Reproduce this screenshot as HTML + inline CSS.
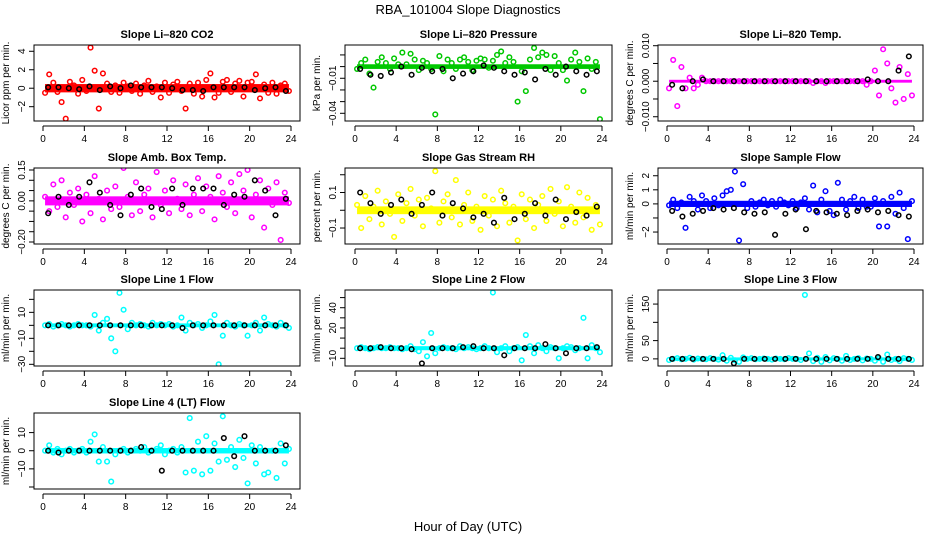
<!DOCTYPE html>
<html><head><meta charset="utf-8"><style>
html,body{margin:0;padding:0;background:#fff;}
svg{display:block;font-family:"Liberation Sans",sans-serif;}
</style></head><body>
<svg id="chart" width="936" height="540" viewBox="0 0 936 540" xmlns="http://www.w3.org/2000/svg">
<text x="468" y="14" font-size="13" text-anchor="middle">RBA_101004  Slope Diagnostics</text>
<text x="468" y="531" font-size="13" text-anchor="middle">Hour of Day (UTC)</text>
</svg>
<script>
const hoursC=[0.2,0.6,1.0,1.4,1.8,2.2,2.6,3.0,3.4,3.8,4.2,4.6,5.0,5.4,5.8,6.2,6.6,7.0,7.4,7.8,8.2,8.6,9.0,9.4,9.8,10.2,10.6,11.0,11.4,11.8,12.2,12.6,13.0,13.4,13.8,14.2,14.6,15.0,15.4,15.8,16.2,16.6,17.0,17.4,17.8,18.2,18.6,19.0,19.4,19.8,20.2,20.6,21.0,21.4,21.8,22.2,22.6,23.0,23.4,23.8];
const hoursK=[0.5,1.5,2.5,3.5,4.5,5.5,6.5,7.5,8.5,9.5,10.5,11.5,12.5,13.5,14.5,15.5,16.5,17.5,18.5,19.5,20.5,21.5,22.5,23.5];
const xTicks=[0,4,8,12,16,20,24];

const co2Vals=[-0.5,1.5,0.6,-0.4,-1.5,-3.3,0.7,0.3,-0.6,0.9,-0.3,4.4,1.9,-2.2,1.6,0.5,-0.4,0.3,-0.5,0.6,0.2,-0.3,0.5,-0.6,0.3,0.8,-0.4,0.2,-1.0,0.6,-0.5,0.4,0.7,-0.3,-2.2,0.5,-0.6,0.6,-0.9,0.9,1.6,-1.0,-0.5,0.7,0.9,-0.4,0.5,0.8,-0.9,0.6,0.7,1.5,-1.1,0.4,-0.5,0.6,-0.6,0.3,0.5,-0.3];
const co2Black=[0.1,0.1,0.0,-0.1,0.2,-0.2,0.2,0.0,0.3,0.1,0.1,0.1,0.0,-0.2,-0.2,-0.3,0.1,0.1,0.1,0.1,-0.2,0.0,0.1,-0.3];
const presVals=[-0.002,0.003,0.006,-0.006,-0.018,0.004,0.008,0.003,-0.002,0.007,0.002,0.012,0.002,0.011,0.006,-0.003,0.005,0.003,-0.002,-0.041,0.009,-0.004,0.006,0.003,-0.002,0.006,0.008,0.004,-0.003,0.005,0.007,0.006,-0.001,0.005,0.010,0.013,0.003,0.008,0.004,-0.030,-0.004,-0.021,0.006,0.016,0.008,0.012,0.010,-0.003,0.009,0.003,-0.003,-0.012,0.006,0.012,0.004,-0.021,0.007,-0.002,0.004,-0.045];
const presBlack=[-0.002,-0.007,-0.008,-0.005,0.000,-0.007,-0.001,-0.004,-0.002,-0.010,-0.006,-0.004,0.001,-0.001,-0.004,-0.007,-0.005,-0.011,-0.002,-0.007,0.000,-0.004,-0.007,-0.004];
const tempVals=[-0.002,0.006,-0.007,0.004,-0.002,0.001,-0.002,-0.001,0.001,0.000,0,0,0,0,0,0,0,0,0,0,0,0,0,0,0,0,0,0,0,0,0,0,0,0,0,-0.0005,0,0,-0.0005,0,0,0,0,0,0,0,0,0,-0.001,0,0.003,-0.004,0.009,0.005,-0.002,-0.006,0.004,-0.005,0.002,-0.004];
const tempBlack=[-0.001,-0.002,0.000,0.0005,0,0,0,0,0,0,0,0,0,0,0,0,0,0,0,0.0005,0,0,0.003,0.007];
const ambVals=[0.02,-0.05,0.08,-0.03,0.10,-0.08,0.04,-0.02,0.06,-0.10,0.03,-0.06,0.12,0.01,-0.09,0.05,-0.04,0.07,-0.03,0.16,0.02,-0.07,0.09,-0.05,0.03,0.06,-0.08,0.14,-0.02,0.05,-0.06,0.10,0.01,-0.04,0.08,-0.07,0.03,0.11,-0.05,0.07,0.02,-0.09,0.12,0.04,-0.03,0.09,-0.06,0.13,0.05,0.15,-0.08,0.03,0.10,-0.13,0.06,-0.02,0.09,-0.19,0.04,-0.01];
const ambBlack=[-0.06,0.02,-0.02,0.02,0.09,0.04,-0.02,-0.07,0.03,0.06,-0.03,-0.04,0.06,-0.02,0.06,0.06,0.06,-0.02,0.03,0.02,0.10,0.05,-0.07,0.01];
const rhVals=[0.03,-0.10,0.08,-0.05,0.02,0.11,-0.08,0.05,-0.02,-0.15,0.09,-0.06,0.04,0.12,-0.03,0.06,-0.09,0.07,0.01,0.22,-0.07,0.05,0.09,-0.04,0.17,-0.08,0.03,0.10,-0.06,0.02,-0.11,0.08,-0.03,0.06,-0.09,0.11,0.04,-0.07,0.02,-0.17,0.09,-0.05,0.06,-0.10,0.03,0.08,-0.06,0.12,-0.02,0.05,-0.09,0.13,0.02,-0.07,0.10,-0.04,0.07,-0.11,0.03,-0.08];
const rhBlack=[0.10,0.04,-0.02,0.03,0.06,-0.02,0.03,0.10,-0.03,0.04,0.01,-0.04,-0.02,-0.07,0.07,-0.05,-0.02,0.04,-0.03,0.06,-0.05,-0.01,-0.03,0.02];
const flowVals=[-0.1,0.3,-0.3,0.1,-1.7,0.5,0.2,-0.4,0.6,0.2,-0.3,0.4,-0.1,0.6,0.9,1.0,2.3,-2.6,1.4,-0.3,0.2,-0.2,0.1,0.3,-0.1,0.2,-0.2,0.3,0.1,-0.1,0.2,-0.3,0.1,0.4,-0.4,1.3,-0.6,0.3,0.9,-0.5,-0.8,1.5,0.3,-0.4,0.2,0.5,-0.3,0.3,-0.2,-0.2,0.4,-1.6,0.2,-1.6,0.5,-0.7,0.8,-0.3,-2.5,0.2];
const flowBlack=[-0.5,-0.9,-0.7,-0.5,-0.3,-0.4,-0.3,-0.6,-0.7,-0.6,-2.2,-0.7,-0.4,-1.8,-0.5,-0.6,-0.7,-0.8,-0.5,-0.4,-0.6,-0.5,-0.8,-0.9];
const line1Vals=[0,1,-1,0,1,0,-1,0,1,0,0,-1,8,-4,2,5,-10,-20,25,12,-3,2,0,1,0,-1,2,0,1,0,1,-1,0,6,-4,2,0,1,-2,0,3,8,-30,-8,2,0,-1,1,0,-8,0,2,-4,6,1,0,-1,2,0,-2];
const line1Black=[0,0,0,0,0,0,0,0,0,0,0,0,0,-2,0,0,0,0,0,0,0,0,0,0];
const line2Vals=[0,1,0,-1,0,1,0,0,1,0,0,-1,0,2,-1,-3,6,-8,15,-5,0,1,0,0,-1,2,0,1,0,-1,0,2,0,55,-4,0,2,-3,0,1,-12,13,2,-5,3,0,-3,1,0,-10,0,2,1,-2,0,30,-10,3,0,-4];
const line2Black=[0,0,1,0,0,-1,-15,0,0,0,1,2,0,0,-7,0,0,0,4,0,-5,0,0,1];
const line3Vals=[-3,0,2,-1,0,3,-2,1,0,-1,2,0,-2,10,-5,3,-4,-8,4,0,2,-1,0,1,0,-2,1,0,-1,2,0,0,-3,175,15,-6,3,-8,5,-4,2,0,-5,8,-3,0,2,-4,1,0,-5,2,-8,12,-3,0,-6,2,0,-3];
const line3Black=[0,0,0,0,0,0,-12,0,0,0,0,0,0,0,0,0,0,0,0,0,5,0,0,0];
const line4Vals=[0,3,-1,1,-2,0,1,-1,0,1,-1,5,9,-6,2,-6,-17,-2,0,1,-1,0,1,0,2,-1,0,1,3,-2,0,1,-1,2,-12,18,-11,5,-13,8,-11,4,-6,19,-5,2,-9,6,-4,-18,3,-7,2,-13,-12,0,-15,4,-7,1];
const line4Black=[0,-1,0,0,0,0,0,0,0,2,0,-11,0,0,0,0,0,7,-3,8,0,0,0,3];

const cols=[{l:34,r:300,x0:43,x24:291},{l:345,r:612,x0:355,x24:602},{l:658,r:923,x0:667,x24:914}];
const rows=[{t:45,b:121},{t:168,b:244},{t:290,b:366},{t:413,b:489}];
const panels=[
 {name:'co2',title:'Slope Li\u2013820 CO2',ylab:'Licor ppm per min.',c:0,r:0,lo:-3.55,hi:4.68,col:'#ff0000',band:0.45,vals:co2Vals,blk:co2Black,ticks:[-2,0,2,4],tl:['\u22122','0','2','4']},
 {name:'pressure',title:'Slope Li\u2013820 Pressure',ylab:'kPa per min.',c:1,r:0,lo:-0.0466,hi:0.0185,col:'#00c800',band:0.002,vals:presVals,blk:presBlack,ticks:[0.01,0,-0.01,-0.02,-0.03,-0.04],tl:['','','\u22120.01','','','\u22120.04']},
 {name:'li820-temp',title:'Slope Li\u2013820 Temp.',ylab:'degrees C per min.',c:2,r:0,lo:-0.0112,hi:0.0102,col:'#ff00ff',band:0.0004,vals:tempVals,blk:tempBlack,ticks:[0.01,0.005,0,-0.005,-0.01],tl:['0.010','','0.000','','\u22120.010']},
 {name:'amb-box-temp',title:'Slope Amb. Box Temp.',ylab:'degrees C per min.',c:0,r:1,lo:-0.2097,hi:0.1597,col:'#ff00ff',band:0.022,vals:ambVals,blk:ambBlack,ticks:[0.15,0.1,0.05,0,-0.05,-0.1,-0.15,-0.2],tl:['0.15','','','0.00','','','','\u22120.20']},
 {name:'gas-stream-rh',title:'Slope Gas Stream RH',ylab:'percent per min.',c:1,r:1,lo:-0.19,hi:0.238,col:'#ffff00',band:0.022,vals:rhVals,blk:rhBlack,ticks:[0.2,0.1,0,-0.1],tl:['','0.1','','\u22120.1']},
 {name:'sample-flow',title:'Slope Sample Flow',ylab:'ml/min per min.',c:2,r:1,lo:-2.85,hi:2.55,col:'#0000ff',band:0.22,vals:flowVals,blk:flowBlack,ticks:[2,1,0,-1,-2],tl:['2','1','0','','\u22122']},
 {name:'line1-flow',title:'Slope Line 1 Flow',ylab:'ml/min per min.',c:0,r:2,lo:-31.3,hi:27.2,col:'#00ffff',band:1.5,vals:line1Vals,blk:line1Black,ticks:[20,10,0,-10,-20,-30],tl:['','10','','\u221210','','\u221230']},
 {name:'line2-flow',title:'Slope Line 2 Flow',ylab:'ml/min per min.',c:1,r:2,lo:-17.6,hi:57.5,col:'#00ffff',band:2,vals:line2Vals,blk:line2Black,ticks:[50,40,30,20,10,0,-10],tl:['','40','','20','','','\u221210']},
 {name:'line3-flow',title:'Slope Line 3 Flow',ylab:'ml/min per min.',c:2,r:2,lo:-19.5,hi:188.5,col:'#00ffff',band:4,vals:line3Vals,blk:line3Black,ticks:[150,100,50,0],tl:['150','','50','0']},
 {name:'line4-flow',title:'Slope Line 4 (LT) Flow',ylab:'ml/min per min.',c:0,r:3,lo:-21.1,hi:20.8,col:'#00ffff',band:1.5,vals:line4Vals,blk:line4Black,ticks:[10,0,-10,-20],tl:['10','0','\u221210','']}
];
const NS='http://www.w3.org/2000/svg';
const svg=document.getElementById('chart');
function mk(tag,attrs,parent){const e=document.createElementNS(NS,tag);for(const k in attrs)e.setAttribute(k,attrs[k]);parent.appendChild(e);return e;}
panels.forEach(p=>{
  const C=cols[p.c],R=rows[p.r];
  const xs=h=>C.x0+(C.x24-C.x0)*h/24;
  const ys=v=>R.b-(v-p.lo)/(p.hi-p.lo)*(R.b-R.t);
  const g=mk('g',{},svg);
  
  
  const clip=mk('clipPath',{id:'clip-'+p.name},g);
  mk('rect',{x:C.l,y:R.t,width:C.r-C.l,height:R.b-R.t},clip);
  const pg=mk('g',{'clip-path':'url(#clip-'+p.name+')'},g);
  
  
  const band=mk('rect',{x:xs(hoursC[0]),y:ys(p.band),width:xs(hoursC[hoursC.length-1])-xs(hoursC[0]),height:ys(-p.band)-ys(p.band),fill:p.col},pg);
  
  
  p.vals.forEach((v,i)=>{
    const c=mk('circle',{cx:xs(hoursC[i]),cy:ys(v),r:2.3,fill:'none',stroke:p.col,'stroke-width':1.5},pg);
    
    
  });
  p.blk.forEach((v,i)=>{
    const c=mk('circle',{cx:xs(hoursK[i]),cy:ys(v),r:2.3,fill:'none',stroke:'#000','stroke-width':1.5},pg);
    
    
  });
  const box=mk('rect',{x:C.l,y:R.t,width:C.r-C.l,height:R.b-R.t,fill:'none',stroke:'#000','stroke-width':1},g);
  
  
  const t=mk('text',{x:(C.l+C.r)/2,y:R.t-7,'font-size':11,'font-weight':'bold','text-anchor':'middle'},g);
  t.textContent=p.title;
  
  
  const yl=mk('text',{x:0,y:0,'font-size':10,'text-anchor':'middle',transform:'translate('+(C.l-25)+','+((R.t+R.b)/2)+') rotate(-90)'},g);
  yl.textContent=p.ylab;
  
  
  p.ticks.forEach((tv,i)=>{
    const y=ys(tv);
    mk('line',{x1:C.l-5,x2:C.l,y1:y,y2:y,stroke:'#000'},g);
    if(p.tl[i]){
      const tx=mk('text',{x:0,y:0,'font-size':10,'text-anchor':'middle',transform:'translate('+(C.l-9)+','+y+') rotate(-90)'},g);
      tx.textContent=p.tl[i];
      
      
    }
  });
  mk('line',{x1:xs(0),x2:xs(24),y1:R.b+5,y2:R.b+5,stroke:'#000'},g);
  xTicks.forEach(h=>{
    const x=xs(h);
    mk('line',{x1:x,x2:x,y1:R.b+5,y2:R.b+10,stroke:'#000'},g);
    const tx=mk('text',{x:x,y:R.b+21,'font-size':10,'text-anchor':'middle'},g);
    tx.textContent=h;
    
    
  });
});
</script>
</body></html>
